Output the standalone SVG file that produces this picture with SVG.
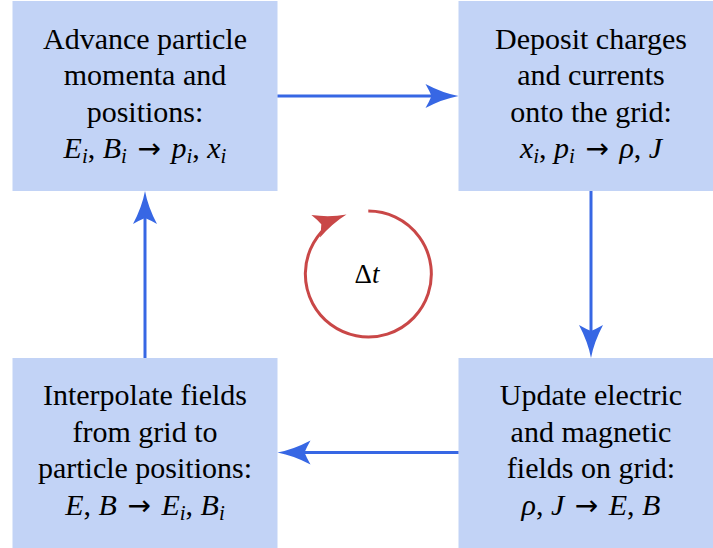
<svg xmlns="http://www.w3.org/2000/svg" width="713" height="548" viewBox="0 0 713 548">
  <defs>
    <path id="ah" d="M 0 0 Q -16 -3 -33 -12 Q -29 -5 -27 0 Q -29 5 -33 12 Q -16 3 0 0 Z"/>
  </defs>

  <g font-family="Liberation Serif, serif" font-size="30" fill="#000" text-anchor="middle">
    <g id="n1">
      <rect fill="#c2d3f6" x="12.5" y="1" width="265" height="190"/>
      <text x="145" y="48.5">Advance particle</text>
      <text x="145" y="85">momenta and</text>
      <text x="145" y="121.5">positions:</text>
      <text x="145" y="158"><tspan font-style="italic">E</tspan><tspan font-style="italic" font-size="21" dy="5">i</tspan><tspan dy="-5">, </tspan><tspan font-style="italic">B</tspan><tspan font-style="italic" font-size="21" dy="5">i</tspan><tspan dy="-5"> </tspan><tspan font-family="DejaVu Sans, sans-serif" font-size="28" dx="3">→</tspan><tspan> </tspan><tspan font-style="italic" dx="3">p</tspan><tspan font-style="italic" font-size="21" dy="5">i</tspan><tspan dy="-5">, </tspan><tspan font-style="italic">x</tspan><tspan font-style="italic" font-size="21" dy="5">i</tspan></text>
    </g>

    <g id="n2">
      <rect fill="#c2d3f6" x="458.5" y="1" width="265" height="190"/>
      <text x="591" y="48.5">Deposit charges</text>
      <text x="591" y="85">and currents</text>
      <text x="591" y="121.5">onto the grid:</text>
      <text x="591" y="158"><tspan font-style="italic">x</tspan><tspan font-style="italic" font-size="21" dy="5">i</tspan><tspan dy="-5">, </tspan><tspan font-style="italic">p</tspan><tspan font-style="italic" font-size="21" dy="5">i</tspan><tspan dy="-5"> </tspan><tspan font-family="DejaVu Sans, sans-serif" font-size="28" dx="3">→</tspan><tspan> </tspan><tspan font-style="italic" dx="3">ρ</tspan><tspan>, </tspan><tspan font-style="italic">J</tspan></text>
    </g>

    <g id="n3">
      <rect fill="#c2d3f6" x="458.5" y="358" width="265" height="190"/>
      <text x="591" y="405">Update electric</text>
      <text x="591" y="441.7">and magnetic</text>
      <text x="591" y="478.3">fields on grid:</text>
      <text x="591" y="515"><tspan font-style="italic">ρ</tspan><tspan>, </tspan><tspan font-style="italic">J</tspan><tspan> </tspan><tspan font-family="DejaVu Sans, sans-serif" font-size="28" dx="3">→</tspan><tspan> </tspan><tspan font-style="italic" dx="3">E</tspan><tspan>, </tspan><tspan font-style="italic">B</tspan></text>
    </g>

    <g id="n4">
      <rect fill="#c2d3f6" x="12.5" y="358" width="265" height="190"/>
      <text x="145" y="405">Interpolate fields</text>
      <text x="145" y="441.7">from grid to</text>
      <text x="145" y="478.3">particle positions:</text>
      <text x="145" y="515"><tspan font-style="italic">E</tspan><tspan>, </tspan><tspan font-style="italic">B</tspan><tspan> </tspan><tspan font-family="DejaVu Sans, sans-serif" font-size="28" dx="3">→</tspan><tspan> </tspan><tspan font-style="italic" dx="3">E</tspan><tspan font-style="italic" font-size="21" dy="5">i</tspan><tspan dy="-5">, </tspan><tspan font-style="italic">B</tspan><tspan font-style="italic" font-size="21" dy="5">i</tspan></text>
    </g>
  </g>

  <g id="connectors">
    <g stroke="#3767e4" stroke-width="3" fill="none">
      <line x1="277.5" y1="96" x2="434" y2="96"/>
      <line x1="591" y1="191" x2="591" y2="334"/>
      <line x1="458.5" y1="452.5" x2="302" y2="452.5"/>
      <line x1="145" y1="358" x2="145" y2="215"/>
    </g>
    <g fill="#3767e4">
      <use href="#ah" transform="translate(458.5 96)"/>
      <use href="#ah" transform="translate(591 358) rotate(90)"/>
      <use href="#ah" transform="translate(277.5 452.5) rotate(180)"/>
      <use href="#ah" transform="translate(145 191) rotate(-90)"/>
    </g>
  </g>

  <g id="cycle">
    <path stroke="#c94747" stroke-width="3" fill="none" d="M 368.3 211 A 63 63 0 1 1 332.2 222.4"/>
    <use href="#ah" fill="#c94747" transform="translate(346.5 214.5) rotate(-21)"/>
    <text font-family="Liberation Serif, serif" font-size="27" text-anchor="middle" x="367" y="283"><tspan>Δ</tspan><tspan font-style="italic">t</tspan></text>
  </g>
</svg>
